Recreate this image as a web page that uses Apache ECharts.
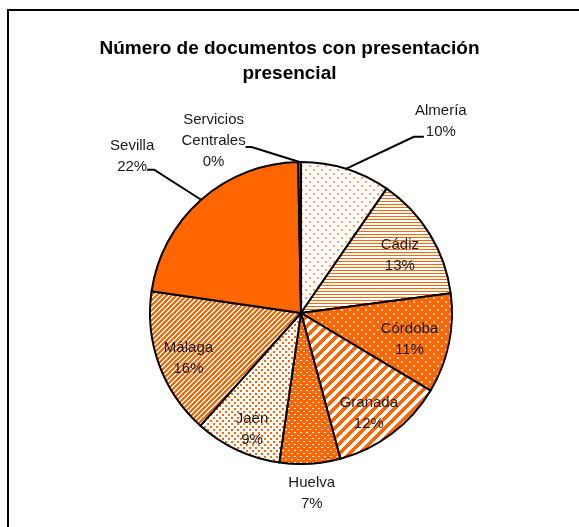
<!DOCTYPE html>
<html>
<head>
<meta charset="utf-8">
<script src="https://cdn.jsdelivr.net/npm/echarts@6/dist/echarts.min.js"></script>
<style>
  html, body { margin: 0; padding: 0; background: #fff; }
  #frame { position: absolute; left: 7px; top: 9px; width: 700px; height: 700px;
           border-left: 2px solid #000; border-top: 2px solid #000; }
  #main { position: absolute; left: 0; top: 0; width: 579px; height: 527px; }
</style>
</head>
<body>
<div id="frame"></div>
<div id="main"></div>
<script>
// datos (porcentaje de documentos por provincia)
var provincias = ['Almería', 'Cádiz', 'Córdoba', 'Granada', 'Huelva', 'Jaén', 'Málaga', 'Sevilla', 'Servicios Centrales'];
var etiquetas  = ['Almería', 'Cádiz', 'Córdoba', 'Granada', 'Huelva', 'Jaén', 'Málaga', 'Sevilla', 'Servicios\nCentrales'];
var valores    = [9.6, 13.3, 10.7, 12.2, 6.5, 9.3, 15.7, 22.4, 0.3];

var NARANJA = '#ff6600';
var CX = 301, CY = 313, R = 151;
var FUENTE = '"Liberation Sans Narrow", "Liberation Sans", Arial, sans-serif';

// tramas tipo Excel
function trama (size, fondo, tinta, pintar) {
    var c = document.createElement('canvas');
    c.width = size; c.height = size;
    var ctx = c.getContext('2d');
    ctx.fillStyle = fondo;
    ctx.fillRect(0, 0, size, size);
    ctx.fillStyle = tinta;
    for (var y = 0; y < size; y++) {
        for (var x = 0; x < size; x++) {
            if (pintar(x, y)) ctx.fillRect(x, y, 1, 1);
        }
    }
    return { image: c, repeat: 'repeat' };
}

function puntos (x, y) {   // dos puntos gordos por celda de 8
    return ((x == 1 || x == 2) && (y == 1 || y == 2)) || ((x == 5 || x == 6) && (y == 5 || y == 6));
}
function puntitos (x, y) { // celda de 6, dos puntos
    return ((x == 0 || x == 1) && y == 0) || ((x == 3 || x == 4) && y == 3);
}

var rellenos = [
    trama(8, '#fff', '#ff9d5c', puntos),                                         // Almería
    trama(3, '#fff', NARANJA, function (x, y) { return y == 0; }),              // Cádiz
    trama(8, NARANJA, '#ffd2b3', puntos),                                        // Córdoba
    trama(10, '#fff', NARANJA, function (x, y) { return (x + y) % 10 < 5; }),   // Granada
    trama(6, NARANJA, '#fff', puntitos),                                         // Huelva
    trama(6, '#fff', NARANJA, function (x, y) {                                  // Jaén
        return ((x == 0 || x == 1) && (y == 0 || y == 1)) || ((x == 3 || x == 4) && (y == 3 || y == 4));
    }),
    trama(5, '#fff', NARANJA, function (x, y) { return (x + y) % 5 < 3; }),     // Málaga
    NARANJA,                                                                       // Sevilla
    NARANJA                                                                        // Servicios Centrales
];

// colocacion de etiquetas
var fuera = {
    'Almería':             { codo: [68, -32], cola: 10, texto: [17, -15] },
    'Sevilla':             { codo: [-47, -30], cola: -7, texto: [-15, -13] },
    'Servicios Centrales': { codo: [-48, -15], cola: -6, texto: [-32, -6] }
};
var dentro = {
    'Cádiz':   { f: 0.76, d: [1, 2] },
    'Córdoba': { f: 0.74, d: [-1, 4] },
    'Granada': { f: 0.80, d: [-5, 4] },
    'Huelva':  { f: 1.19, d: [0, 1] },
    'Jaén':    { f: 0.83, d: [4, 3] },
    'Málaga':  { f: 0.80, d: [1, 4] }
};

var total = valores.reduce(function (a, b) { return a + b; }, 0);
var medios = [];
var acum = 0;
valores.forEach(function (v) {
    medios.push((acum + v / 2) / total * 2 * Math.PI);
    acum += v;
});
function punto (i, f) {
    return [CX + R * f * Math.sin(medios[i]), CY - R * f * Math.cos(medios[i])];
}

var datos = provincias.map(function (p, i) {
    var conLinea = !!fuera[p];
    return {
        name: p,
        value: valores[i],
        itemStyle: { color: rellenos[i] },
        label: { position: conLinea ? 'outside' : 'inside' },
        labelLine: { show: conLinea }
    };
});

var chart = echarts.init(document.getElementById('main'), null, { renderer: 'canvas' });

var option = {
    animation: false,
    title: {
        text: 'Número de documentos con presentación\npresencial',
        left: 'center',
        top: 31,
        textStyle: { fontFamily: FUENTE, fontSize: 19, fontWeight: 'bold', color: '#000', lineHeight: 25 }
    },
    series: [{
        type: 'pie',
        center: [CX, CY],
        radius: [0, R],
        startAngle: 90,
        clockwise: true,
        avoidLabelOverlap: false,
        silent: true,
        data: datos,
        itemStyle: { borderColor: '#000', borderWidth: 2 },
        label: {
            show: true,
            fontFamily: FUENTE,
            fontSize: 15,
            lineHeight: 21,
            color: '#1a1a1a',
            align: 'center',
            formatter: function (p) {
                return etiquetas[p.dataIndex] + '\n' + Math.round(p.value) + '%';
            }
        },
        labelLine: { lineStyle: { color: '#000', width: 2 } },
        labelLayout: function (params) {
            var i = params.dataIndex;
            var nombre = provincias[i];
            var o = fuera[nombre];
            if (o) {
                var a = punto(i, 1);
                var b = [a[0] + o.codo[0], a[1] + o.codo[1]];
                var c = [b[0] + o.cola, b[1]];
                return {
                    x: c[0] + o.texto[0], y: c[1] + o.texto[1],
                    align: 'center', verticalAlign: 'middle',
                    labelLinePoints: [a, b, c]
                };
            }
            var d = dentro[nombre];
            var q = punto(i, d.f);
            return { x: q[0] + d.d[0], y: q[1] + d.d[1], align: 'center', verticalAlign: 'middle' };
        }
    }]
};
chart.setOption(option);
</script>
</body>
</html>
